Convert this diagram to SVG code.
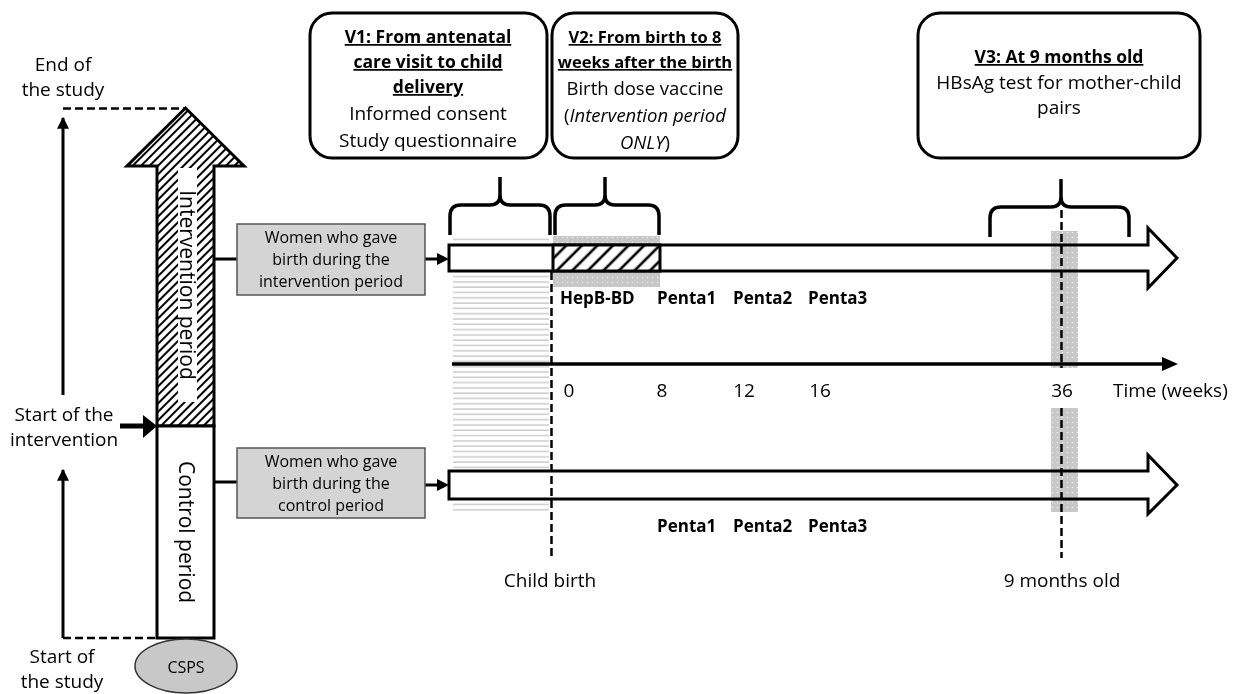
<svg xmlns="http://www.w3.org/2000/svg" width="1234" height="694" viewBox="0 0 1234 694">
<defs>
<pattern id="hatchDense" patternUnits="userSpaceOnUse" width="6" height="6" patternTransform="rotate(45)">
<rect width="6" height="6" fill="#fff"/>
<line x1="1" y1="0" x2="1" y2="6" stroke="#000" stroke-width="2"/>
</pattern>
<pattern id="hatchWide" patternUnits="userSpaceOnUse" width="11" height="11" patternTransform="rotate(45)">
<rect width="11" height="11" fill="#fff"/>
<line x1="2" y1="0" x2="2" y2="11" stroke="#000" stroke-width="2.6"/>
</pattern>
<pattern id="dots" patternUnits="userSpaceOnUse" width="5" height="5">
<rect width="5" height="5" fill="#c8c8c8"/>
<circle cx="2.5" cy="2.5" r="0.7" fill="#eee"/>
</pattern>
<pattern id="stripes" patternUnits="userSpaceOnUse" width="10" height="5.3">
<line x1="0" y1="1" x2="10" y2="1" stroke="#c4c4c4" stroke-width="1.3"/>
</pattern>
<marker id="ah" viewBox="0 0 10 10" refX="9" refY="5" markerWidth="4" markerHeight="4.5" orient="auto" markerUnits="strokeWidth">
<path d="M0,0 L10,5 L0,10 Z" fill="#000"/>
</marker>
</defs>
<style>
text{font-family:"Open Sans","Noto Sans","Liberation Sans",sans-serif;fill:#000}
.t19{font-size:19px}
.b17{font-size:17.5px;font-weight:bold}
.b16{font-size:16.5px;font-weight:bold}
.ul{text-decoration:underline}
.box{fill:#fff;stroke:#000;stroke-width:3}
.gbox{fill:#d4d4d4;stroke:#555;stroke-width:1.5}
.ln{stroke:#000;stroke-width:3;fill:none}
.dash{stroke:#000;stroke-width:2.5;stroke-dasharray:8 4;fill:none}
.brace{stroke:#000;stroke-width:3.5;fill:none;stroke-linejoin:round}
.big{fill:#fff;stroke:#000;stroke-width:3}
.c{text-anchor:middle}
.lbl{font-size:16px}
.vac{font-size:17px;font-weight:bold}
.band{fill:url(#dots);mix-blend-mode:multiply}
</style>

<!-- background shaded areas -->
<rect x="453" y="236" width="96" height="276" fill="url(#stripes)"/>
<rect x="553" y="236" width="107" height="51" fill="url(#dots)"/>

<g id="connectors">
<line class="ln" x1="63" y1="395" x2="63" y2="118" marker-end="url(#ah)"/>
<line class="dash" x1="63" y1="108.5" x2="185" y2="108.5"/>
<line class="ln" x1="63" y1="638" x2="63" y2="470" marker-end="url(#ah)"/>
<line class="dash" x1="63" y1="638" x2="157" y2="638"/>
<line x1="120" y1="426" x2="145" y2="426" stroke="#000" stroke-width="5"/>
<path d="M143,415 L157,426 L143,438 Z" fill="#000"/>
<line class="ln" x1="214" y1="259" x2="237" y2="259"/>
<line class="ln" x1="214" y1="482" x2="237" y2="482"/>
<line class="ln" x1="425" y1="259" x2="438" y2="259"/>
<path d="M437,253 L449,259 L437,265 Z" fill="#000"/>
<line class="ln" x1="425" y1="485" x2="438" y2="485"/>
<path d="M437,479 L449,485 L437,491 Z" fill="#000"/>
</g>

<g id="intervention-arrow">
<path d="M157,426 V166 H127 L185.5,108 L244,166 H214 V426 Z" fill="url(#hatchDense)" stroke="#000" stroke-width="3" stroke-linejoin="miter"/>
<rect x="178" y="168" width="19" height="234" fill="#fff"/>
<text transform="translate(180,285) rotate(90)" class="c" font-size="21">Intervention period</text>
</g>

<g id="control-period">
<rect x="157" y="426" width="57" height="212" fill="#fff" stroke="#000" stroke-width="3"/>
<text transform="translate(179,532) rotate(90)" class="c" font-size="21">Control period</text>
</g>

<g id="csps">
<ellipse cx="186" cy="666" rx="51" ry="27" fill="#c8c8c8" stroke="#333" stroke-width="1.5"/>
<text x="186" y="673" class="c lbl">CSPS</text>
</g>

<g id="left-labels">
<text class="c t19" x="63" y="71">End of</text>
<text class="c t19" x="63" y="96">the study</text>
<text class="c t19" x="64" y="421">Start of the</text>
<text class="c t19" x="64" y="446">intervention</text>
<text class="c t19" x="62" y="663">Start of</text>
<text class="c t19" x="62" y="688">the study</text>
</g>

<g id="women-intervention">
<rect class="gbox" x="237" y="224" width="188" height="71"/>
<text class="c lbl" x="331" y="243">Women who gave</text>
<text class="c lbl" x="331" y="265">birth during the</text>
<text class="c lbl" x="331" y="287">intervention period</text>
</g>

<g id="women-control">
<rect class="gbox" x="237" y="448" width="188" height="70"/>
<text class="c lbl" x="331" y="467">Women who gave</text>
<text class="c lbl" x="331" y="489">birth during the</text>
<text class="c lbl" x="331" y="511">control period</text>
</g>

<g id="timeline-intervention">
<path class="big" d="M449,245 H1148 V228 L1177,258 L1148,288 V271 H449 Z"/>
<rect x="553" y="245" width="107" height="26" fill="url(#hatchWide)" stroke="#000" stroke-width="3"/>
</g>

<g id="timeline-control">
<path class="big" d="M449,471 H1148 V455 L1177,485 L1148,514 V499 H449 Z"/>
</g>

<g id="band-36">
<rect class="band" x="1051" y="231" width="27" height="137"/>
<rect class="band" x="1051" y="408" width="27" height="104"/>
</g>

<g id="time-axis">
<line x1="452" y1="364" x2="1165" y2="364" stroke="#000" stroke-width="3.5"/>
<path d="M1162,357 L1178,364 L1162,371 Z" fill="#000"/>
<text class="c t19" x="569" y="397">0</text>
<text class="c t19" x="662" y="397">8</text>
<text class="c t19" x="744" y="397">12</text>
<text class="c t19" x="820" y="397">16</text>
<text class="c t19" x="1062" y="397">36</text>
<text class="t19" x="1113" y="397">Time (weeks)</text>
</g>

<g id="markers">
<line class="dash" x1="551.5" y1="272" x2="551.5" y2="558"/>
<line class="dash" x1="1061.5" y1="210" x2="1061.5" y2="368"/>
<line class="dash" x1="1061.5" y1="408" x2="1061.5" y2="558"/>
<text class="c t19" x="550" y="587">Child birth</text>
<text class="c t19" x="1062" y="587">9 months old</text>
</g>

<g id="vaccines">
<text class="vac" x="560" y="304">HepB-BD</text>
<text class="vac" x="657" y="304">Penta1</text>
<text class="vac" x="733" y="304">Penta2</text>
<text class="vac" x="808" y="304">Penta3</text>
<text class="vac" x="657" y="532">Penta1</text>
<text class="vac" x="733" y="532">Penta2</text>
<text class="vac" x="808" y="532">Penta3</text>
</g>

<g id="braces">
<path class="brace" d="M450,235 V216 Q450,205 461,205 H490 Q500,205 500,195 V177 M500,195 Q500,205 510,205 H539 Q550,205 550,216 V235"/>
<path class="brace" d="M555,235 V216 Q555,205 566,205 H595 Q605,205 605,195 V177 M605,195 Q605,205 615,205 H648 Q659,205 659,216 V235"/>
<path class="brace" d="M990,237 V218 Q990,207 1001,207 H1051 Q1061,207 1061,197 V179 M1061,197 Q1061,207 1071,207 H1118 Q1129,207 1129,218 V237"/>
</g>

<g id="v1">
<rect class="box" x="310" y="13" width="237" height="145" rx="22"/>
<text class="c b17 ul" x="428" y="43">V1: From antenatal</text>
<text class="c b17 ul" x="428" y="68">care visit to child</text>
<text class="c b17 ul" x="428" y="93">delivery</text>
<text class="c t19" x="428" y="120">Informed consent</text>
<text class="c t19" x="428" y="147">Study questionnaire</text>
</g>

<g id="v2">
<rect class="box" x="552" y="13" width="186" height="145" rx="22"/>
<text class="c b16 ul" x="645" y="43">V2: From birth to 8</text>
<text class="c b16 ul" x="645" y="68">weeks after the birth</text>
<text class="c" font-size="18.5" x="645" y="95">Birth dose vaccine</text>
<text class="c" font-size="18.5" x="645" y="122">(<tspan font-style="italic">Intervention period</tspan></text>
<text class="c" font-size="18.5" x="645" y="149"><tspan font-style="italic">ONLY</tspan>)</text>
</g>

<g id="v3">
<rect class="box" x="918" y="13" width="282" height="145" rx="22"/>
<text class="c b17 ul" x="1059" y="63">V3: At 9 months old</text>
<text class="c t19" x="1059" y="89">HBsAg test for mother-child</text>
<text class="c t19" x="1059" y="114">pairs</text>
</g>
</svg>
